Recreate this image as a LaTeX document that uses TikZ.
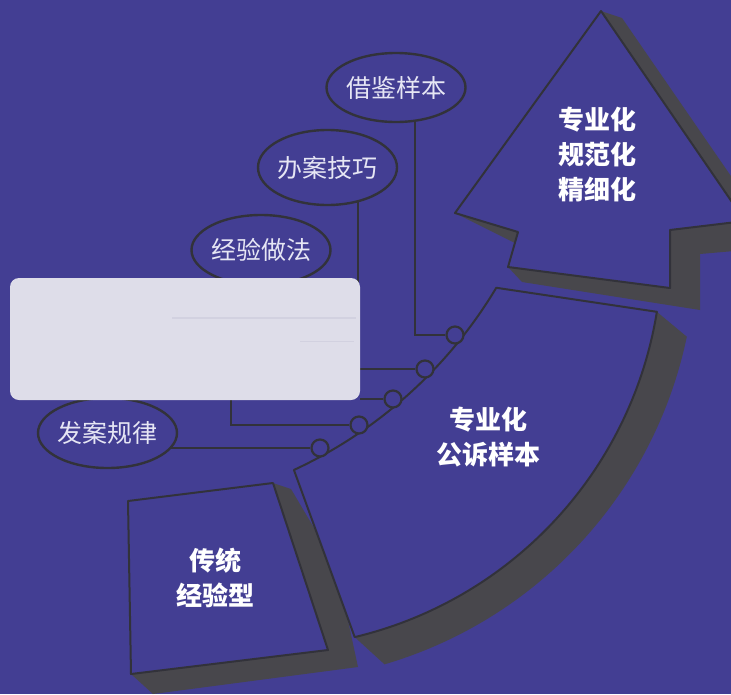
\documentclass[tikz,border=0pt]{standalone}
\usepackage{fontspec}
\newfontfamily\cjk{Noto Sans CJK SC}
\usetikzlibrary{shapes.geometric}
\definecolor{bgc}{RGB}{67,62,147}
\definecolor{shd}{RGB}{72,71,76}
\definecolor{edge}{RGB}{50,50,58}
\definecolor{boxc}{RGB}{222,221,233}
\definecolor{boxl}{RGB}{210,209,224}
\definecolor{lbltxt}{RGB}{230,230,244}
\pgfdeclarelayer{bgl}
\pgfsetlayers{bgl,main}
\begin{document}
\begin{tikzpicture}[x=1pt,y=-1pt,
  oval/.style={ellipse, draw=edge, line width=2.4pt, fill=bgc, minimum width=139pt, minimum height=69pt, inner sep=0pt},
  lbl/.style={font=\cjk\fontsize{25}{30}\selectfont, text=lbltxt, inner sep=0pt},
  dot/.style={circle, draw=edge, line width=2.2pt, fill=bgc, minimum size=17pt, inner sep=0pt},
  conn/.style={draw=edge, line width=2.4pt},
  card/.style={fill=bgc, draw=edge, line width=2pt, line join=round},
  shadow/.style={fill=shd},
  big/.style={font=\cjk\bfseries\fontsize{26}{35}\selectfont, text=white, align=center, inner sep=0pt},
]
\useasboundingbox (0,0) rectangle (731,694);
% ellipses
\node[oval, label={[lbl]center:借鉴样本}] (jjyb) at (396,87.5) {};
\node[oval, minimum height=75pt, label={[lbl]center:办案技巧}] (bajq) at (327.5,167.5) {};
\node[oval, minimum height=70pt, label={[lbl]center:经验做法}] (jyzf) at (261,250) {};
\node[oval, minimum height=70pt, label={[lbl]center:发案规律}] (fagl) at (107.5,433) {};
% small circles
\node[dot] (c1) at (455,335) {};
\node[dot] (c2) at (425,369) {};
\node[dot] (c3) at (393,399) {};
\node[dot] (c4) at (359,425) {};
\node[dot] (c5) at (320,448) {};
% blank box
\node[fill=boxc, rounded corners=9pt, minimum width=350pt, minimum height=122pt, inner sep=0pt] (box) at (185,339) {};
\draw[boxl, line width=1.2pt] (172,318) -- (356,318);
\draw[boxl, line width=1pt] (300,341) -- (354,341);

\begin{pgfonlayer}{bgl}
\fill[bgc] (0,0) rectangle (731,694);
\clip (0,0) rectangle (731,694);
% card 1
\fill[shadow] (273,483) -- (291,489) -- (336,565) -- (358,667) -- (153,694) -- (131,674) -- cycle;
\draw[card] (128,501) -- (273,483) -- (328,650) -- (131,674) -- cycle;
\node[big] (t1) at (215,577.5) {传统\\经验型};
% band
\path (99,50) ++(65.1:463) coordinate (A);
\path (262,248) ++(9.18:400) coordinate (D);
\path (262,248) ++(76.6:400) coordinate (C);
\path (262,248) ++(11.8:434) coordinate (S1);
\fill[shadow] (D) -- (S1) arc[start angle=11.8, end angle=73.6, radius=434] -- (C) -- cycle;
\draw[card] (A) arc[start angle=65.1, end angle=30.9, radius=463] -- (D) arc[start angle=9.18, end angle=76.6, radius=400] -- cycle;
\node[big] (t2) at (488,437.5) {专业化\\公诉样本};
% arrow head
\fill[shadow] (601,11) -- (622,18) -- (775,240) -- (780,247) -- (700,254) -- (700,310) -- (522,282) -- (508,267) -- (515,243) -- (455,213) -- cycle;
\draw[card] (601,11) -- (455,213) -- (518,232) -- (508,267) -- (670,288) -- (670,230) -- (745,221) -- cycle;
\node[big] (t3) at (597,155) {专业化\\规范化\\精细化};
% connectors
\coordinate (x415) at (415,0);
\coordinate (x358) at (358,0);
\coordinate (x231) at (231,0);
\draw[conn] (jjyb.center -| x415) |- (c1);
\draw[conn] (bajq.center -| x358) |- (c2);
\draw[conn] (box.east |- c3) -- (c3);
\draw[conn] (jyzf.center -| x231) |- (c4);
\draw[conn] (fagl.center |- c5) -- (c5);
\end{pgfonlayer}
\end{tikzpicture}
\end{document}
